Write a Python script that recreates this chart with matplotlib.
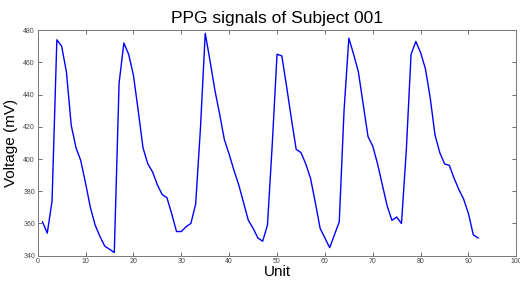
#!/usr/bin/env python
"""PPG trace for subject 001, MATLAB-style line plot."""
import matplotlib

matplotlib.use("Agg")
import matplotlib.pyplot as plt
import numpy as np

plt.rcParams["font.family"] = ["Liberation Sans", "DejaVu Sans"]

# sample index (Unit) and voltage readings (mV)
unit = np.arange(1, 93)
voltage = [
    361, 354, 374, 474, 470, 454, 421, 407, 399, 385,
    370, 359, 352, 346, 344, 342, 447, 472, 465, 452,
    430, 407, 397, 392, 384, 378, 376, 366, 355, 355,
    358, 360, 372, 419, 478, 461, 443, 428, 412, 403,
    393, 384, 373, 362, 357, 351, 349, 359, 409, 465,
    464, 445, 425, 406, 404, 397, 388, 373, 357, 351,
    345, 353, 361, 430, 475, 465, 454, 434, 414, 408,
    397, 384, 371, 362, 364, 360, 405, 465, 473, 466,
    456, 438, 415, 404, 397, 396, 388, 381, 375, 366,
    353, 351,
]
xticks = list(range(0, 101, 10))
yticks = list(range(340, 481, 20))

fig = plt.figure(figsize=(5.2, 2.84), dpi=100)
ax = fig.add_axes([0.0725, 0.0996, 0.9205, 0.7944])
ax.plot(unit, voltage, color="#0000ff", lw=1.0)

ax.set_xlim(0, 100)
ax.set_ylim(340, 480)
ax.set_xticks(xticks)
ax.set_yticks(yticks)
ax.tick_params(direction="in", length=3, width=0.6, colors="#555555",
               labelsize=5, top=True, right=True, pad=2)
ax.tick_params(labelcolor="#444444")
for s in ax.spines.values():
    s.set_color("#777777")
    s.set_linewidth(0.7)

# the right-most tick label runs off the figure edge, as in the original
ax.set_title("PPG signals of Subject 001", fontsize=12.5, pad=5)
ax.set_xlabel("Unit", fontsize=11, labelpad=0)
ax.set_ylabel("Voltage (mV)", fontsize=11, labelpad=4)

fig.savefig("out.png", dpi=100)
plt.close(fig)
